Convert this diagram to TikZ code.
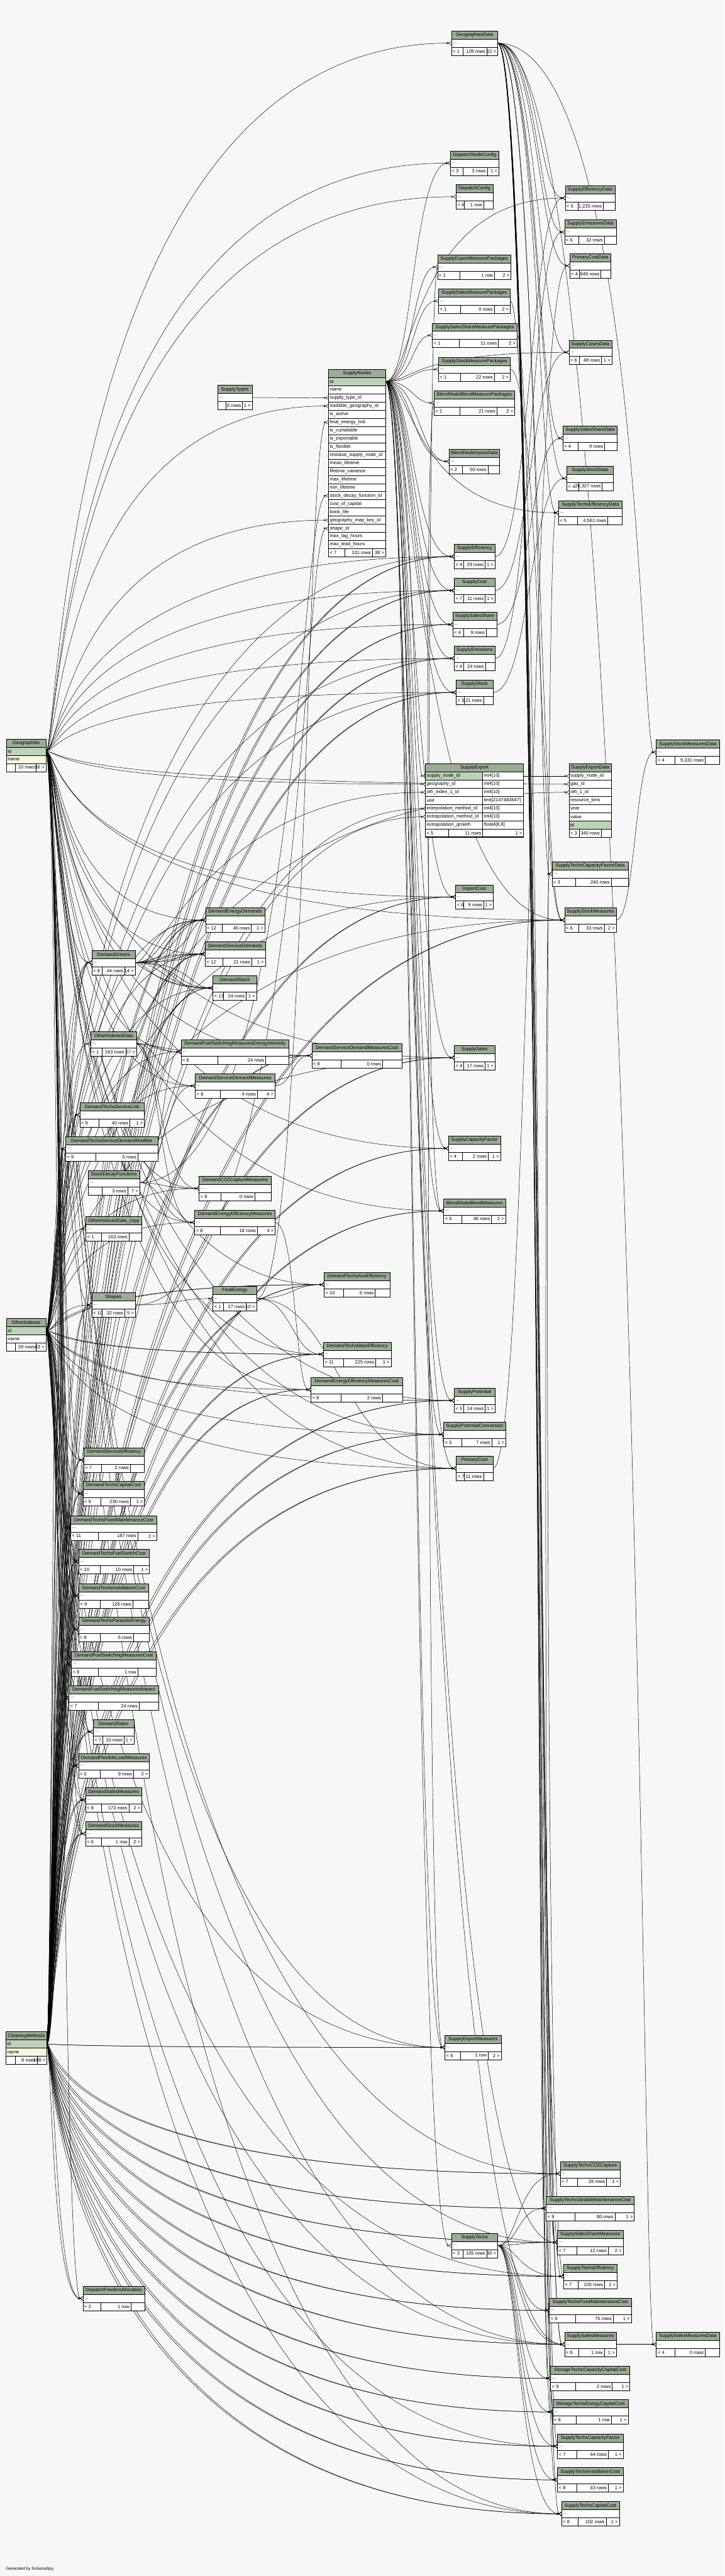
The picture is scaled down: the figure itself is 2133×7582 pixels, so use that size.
\documentclass[tikz,border=0pt]{standalone}
\usepackage{fontspec}
\setmainfont{Liberation Sans}
\usetikzlibrary{
    positioning,  % For stacking the rows of a table (below=0pt of ...)
    arrows.meta,  % For the open circle and crow's foot tips
    calc          % For the let-syntax in the curved links
}
\definecolor{PageBg}{HTML}{F7F7F7}
\definecolor{HeadFill}{HTML}{9BAB97}
\definecolor{KeyFill}{HTML}{BED1BA}
\definecolor{IdxFill}{HTML}{F5F7DE}

\pgfdeclarelayer{background}
\pgfsetlayers{background,main}

\newcommand{\tblfont}{\fontsize{14}{16}\selectfont}

% footer row of a table: parents | rows | children
\newcommand{\dbfoot}[6]{%
    \pgfmathsetmacro{\dbLw}{max(0.4*#3-20,24)}%
    \pgfmathsetmacro{\dbRw}{max(0.2*#3+5,28)}%
    \node[tblcell, minimum width=#3pt, below=0pt of #2] (#1-foot) {};
    \draw[tblline] ([xshift=\dbLw pt]#1-foot.north west) -- ([xshift=\dbLw pt]#1-foot.south west);
    \draw[tblline] ([xshift=-\dbRw pt]#1-foot.north east) -- ([xshift=-\dbRw pt]#1-foot.south east);
    \node[tbltext, anchor=west] at (#1-foot.west) {#4};
    \node[tbltext, anchor=east] at ([xshift=-\dbRw pt]#1-foot.east) {#5};
    \node[tbltext, anchor=east] at (#1-foot.east) {#6};
}
% compact table: name, "..." row, footer
\newcommand{\dbtable}[7]{%
    \pgfmathsetmacro{\dbTw}{#4-8}%
    \node[tblhead, text width=\dbTw pt] (#1) at (#2,#3) {\detokenize{#1}};
    \node[tblrow, text width=\dbTw pt, below=0pt of #1] (#1-r) {...};
    \dbfoot{#1}{#1-r}{#4}{#5}{#6}{#7}%
}
% foreign key link, bent round the vertical line x = #3
\newcommand{\fklink}[3]{%
    \draw[fk] let \p1=(#1), \p2=(#2) in
        (\p1) .. controls (#3 pt,\y1) and (#3 pt,\y2) .. (\p2);%
}

\begin{document}
\begin{tikzpicture}[x=1pt, y=-1pt]
    % --- Styles ---
    \tikzset{
        tblhead/.style={draw, fill=HeadFill, line width=0.9pt, anchor=north west,
            inner xsep=4pt, inner ysep=0pt, outer sep=0pt, minimum height=24pt,
            align=center, font=\tblfont},
        tblrow/.style={draw, fill=white, line width=0.9pt, anchor=north west,
            inner xsep=4pt, inner ysep=0pt, outer sep=0pt, minimum height=24pt,
            align=left, font=\tblfont},
        tblcell/.style={draw, fill=white, line width=0.9pt, anchor=north west,
            inner sep=0pt, outer sep=0pt, minimum height=24pt},
        tbltext/.style={inner xsep=4pt, inner ysep=0pt, font=\tblfont},
        tblline/.style={line width=0.9pt},
        fk/.style={line width=0.9pt,
            -{Circle[open,length=6pt,width=6pt] Straight Barb[reversed,length=7pt,width=11pt]}}
    }
    \useasboundingbox (0,0) rectangle (2133,7582);

    % --- Key tables on the left ---
    \node[tblhead, text width=108pt] (Geographies) at (19,2175) {Geographies};
    \node[tblrow, fill=KeyFill, text width=108pt, below=0pt of Geographies] (Geographies-id) {id};
    \node[tblrow, fill=IdxFill, text width=108pt, below=0pt of Geographies-id] (Geographies-name) {name};
    \dbfoot{Geographies}{Geographies-name}{116}{}{10 rows}{56 >}

    \node[tblhead, text width=108pt] (OtherIndexes) at (19,3881) {OtherIndexes};
    \node[tblrow, fill=KeyFill, text width=108pt, below=0pt of OtherIndexes] (OtherIndexes-id) {id};
    \node[tblrow, text width=108pt, below=0pt of OtherIndexes-id] (OtherIndexes-name) {name};
    \dbfoot{OtherIndexes}{OtherIndexes-name}{116}{}{29 rows}{63 >}

    \node[tblhead, text width=113pt] (CleaningMethods) at (17,5980) {CleaningMethods};
    \node[tblrow, fill=KeyFill, text width=113pt, below=0pt of CleaningMethods] (CleaningMethods-id) {id};
    \node[tblrow, fill=IdxFill, text width=113pt, below=0pt of CleaningMethods-id] (CleaningMethods-name) {name};
    \dbfoot{CleaningMethods}{CleaningMethods-name}{121}{}{8 rows}{108 >}

    % --- SupplyNodes with its columns ---
    \node[tblhead, text width=160pt] (SupplyNodes) at (967,1087) {SupplyNodes};
    \node[tblrow, fill=KeyFill, text width=160pt, below=0pt of SupplyNodes] (SupplyNodes-1) {id};
    \foreach \col [count=\i from 2, remember=\i as \j (initially 1)] in {name, supply\_type\_id,
        tradable\_geography\_id, is\_active, final\_energy\_link, is\_curtailable, is\_exportable,
        is\_flexible, residual\_supply\_node\_id, mean\_lifetime, lifetime\_variance, max\_lifetime,
        min\_lifetime, stock\_decay\_function\_id, cost\_of\_capital, book\_life,
        geography\_map\_key\_id, shape\_id, max\_lag\_hours, max\_lead\_hours}
        \node[tblrow, text width=160pt, below=0pt of SupplyNodes-\j] (SupplyNodes-\i) {\col};
    \dbfoot{SupplyNodes}{SupplyNodes-21}{168}{< 7}{101 rows}{38 >}

    % --- SupplyExport (the table in focus) ---
    \node[tblhead, text width=281pt] (SupplyExport) at (1252,2248) {SupplyExport};
    \node[tblrow, fill=KeyFill, text width=161pt, below=0pt of SupplyExport.south west, anchor=north west]
        (SupplyExport-1) {supply\_node\_id};
    \node[tblrow, text width=112pt, anchor=north west] (SupplyExport-t1) at (SupplyExport-1.north east) {int4[10]};
    \foreach \col/\typ [count=\i from 2, remember=\i as \j (initially 1)] in {geography\_id/int4[10],
        oth\_index\_1\_id/int4[10], unit/text[2147483647], interpolation\_method\_id/int4[10],
        extrapolation\_method\_id/int4[10], extrapolation\_growth/{float4[8,8]}} {
        \node[tblrow, text width=161pt, anchor=north west] (SupplyExport-\i) at (SupplyExport-\j.south west) {\col};
        \node[tblrow, text width=112pt, anchor=north west] (SupplyExport-t\i) at (SupplyExport-\i.north east) {\typ};
    }
    \coordinate (SupplyExport-7c) at ($(SupplyExport-7.south west)!0.5!(SupplyExport-t7.south east)$);
    \node[tblcell, minimum width=289pt, anchor=north] (SupplyExport-foot) at (SupplyExport-7c) {};
    \draw[tblline] ([xshift=68pt]SupplyExport-foot.north west) -- ([xshift=68pt]SupplyExport-foot.south west);
    \draw[tblline] ([xshift=-120pt]SupplyExport-foot.north east) -- ([xshift=-120pt]SupplyExport-foot.south east);
    \node[tbltext, anchor=west] at (SupplyExport-foot.west) {< 5};
    \node[tbltext, anchor=east] at ([xshift=-120pt]SupplyExport-foot.east) {11 rows};
    \node[tbltext, anchor=east] at (SupplyExport-foot.east) {1 >};
    \draw[line width=3pt] (SupplyExport.north west) rectangle (SupplyExport-foot.south east);

    \node[tblhead, text width=117pt] (SupplyExportData) at (1675,2248) {SupplyExportData};
    \node[tblrow, text width=117pt, below=0pt of SupplyExportData] (SupplyExportData-1) {supply\_node\_id};
    \foreach \col [count=\i from 2, remember=\i as \j (initially 1)] in {gau\_id, oth\_1\_id,
        resource\_bins, year, value}
        \node[tblrow, text width=117pt, below=0pt of SupplyExportData-\j] (SupplyExportData-\i) {\col};
    \node[tblrow, fill=KeyFill, text width=117pt, below=0pt of SupplyExportData-6] (SupplyExportData-7) {id};
    \dbfoot{SupplyExportData}{SupplyExportData-7}{125}{< 3}{340 rows}{}

    % --- Compact tables: name, x, y, width, parents, rows, children ---
    \dbtable{GeographiesData}{1329}{91}{136}{< 1}{128 rows}{62 >}
    \dbtable{DispatchNodeConfig}{1326}{444}{142}{< 3}{3 rows}{1 >}
    \dbtable{DispatchConfig}{1342}{543}{109}{< 4}{1 row}{}
    \dbtable{SupplyEfficiencyData}{1664}{547}{146}{< 5}{1,225 rows}{}
    \dbtable{SupplyEmissionsData}{1662}{647}{152}{< 6}{32 rows}{}
    \dbtable{PrimaryCostData}{1677}{746}{121}{< 4}{848 rows}{}
    \dbtable{SupplyExportMeasurePackages}{1288}{750}{216}{< 1}{1 row}{2 >}
    \dbtable{SupplySalesMeasurePackages}{1291}{850}{211}{< 1}{0 rows}{2 >}
    \dbtable{SupplySalesShareMeasurePackages}{1273}{951}{249}{< 1}{11 rows}{2 >}
    \dbtable{SupplyStockMeasurePackages}{1291}{1051}{211}{< 1}{22 rows}{2 >}
    \dbtable{BlendNodeBlendMeasurePackages}{1278}{1150}{237}{< 1}{21 rows}{2 >}
    \dbtable{SupplyCasesData}{1675}{1001}{126}{< 6}{48 rows}{1 >}
    \dbtable{SupplySalesShareData}{1657}{1254}{160}{< 4}{9 rows}{}
    \dbtable{BlendNodeInputsData}{1322}{1322}{149}{< 2}{50 rows}{}
    \dbtable{SupplyStockData}{1669}{1372}{136}{< 4}{26,327 rows}{}
    \dbtable{SupplyTechsEfficiencyData}{1644}{1473}{188}{< 5}{4,561 rows}{}
    \dbtable{SupplyEfficiency}{1337}{1602}{120}{< 4}{29 rows}{1 >}
    \dbtable{SupplyCost}{1337}{1702}{120}{< 7}{11 rows}{1 >}
    \dbtable{SupplySalesShare}{1333}{1802}{129}{< 4}{9 rows}{}
    \dbtable{SupplyEmissions}{1337}{1902}{121}{< 4}{24 rows}{}
    \dbtable{SupplyStock}{1343}{2002}{108}{< 5}{21 rows}{}
    \dbtable{SupplyStockMeasuresData}{1932}{2178}{186}{< 4}{9,331 rows}{}
    \dbtable{SupplyTypes}{641}{1134}{101}{}{6 rows}{1 >}
    \dbtable{DemandEnergyDemands}{605}{2672}{174}{< 12}{46 rows}{1 >}
    \dbtable{DemandServiceDemands}{604}{2772}{177}{< 12}{21 rows}{1 >}
    \dbtable{DemandDrivers}{270}{2797}{128}{< 8}{44 rows}{14 >}
    \dbtable{DemandStock}{627}{2872}{128}{< 13}{24 rows}{1 >}
    \dbtable{OtherIndexesData}{267}{3036}{135}{< 1}{163 rows}{67 >}
    \dbtable{DemandFuelSwitchingMeasuresEnergyIntensity}{533}{3060}{318}{< 6}{24 rows}{}
    \dbtable{DemandServiceDemandMeasures}{575}{3160}{234}{< 8}{4 rows}{4 >}
    \dbtable{DemandServiceDemandMeasuresCost}{918}{3071}{266}{< 8}{0 rows}{}
    \dbtable{DemandTechsServiceLink}{235}{3245}{190}{< 9}{40 rows}{1 >}
    \dbtable{DemandTechsServiceDemandModifier}{193}{3345}{272}{< 9}{5 rows}{}
    \dbtable{StockDecayFunctions}{259}{3445}{152}{}{3 rows}{7 >}
    \dbtable{DemandCO2CaptureMeasures}{586}{3462}{212}{< 8}{0 rows}{}
    \dbtable{DemandEnergyEfficiencyMeasures}{573}{3562}{237}{< 8}{18 rows}{4 >}
    \dbtable{OtherIndexesData_copy}{253}{3581}{164}{< 1}{163 rows}{}
    \dbtable{SupplyTechsCapacityFactorData}{1625}{2536}{224}{< 3}{240 rows}{}
    \dbtable{ImportCost}{1341}{2604}{111}{< 6}{9 rows}{1 >}
    \dbtable{SupplyStockMeasures}{1662}{2672}{152}{< 6}{33 rows}{2 >}
    \dbtable{SupplySales}{1337}{3077}{120}{< 4}{17 rows}{1 >}
    \dbtable{SupplyCapacityFactor}{1320}{3344}{153}{< 4}{2 rows}{1 >}
    \dbtable{BlendNodeBlendMeasures}{1306}{3528}{182}{< 6}{46 rows}{2 >}
    \dbtable{Shapes}{270}{3805}{128}{< 10}{32 rows}{5 >}
    \dbtable{FinalEnergy}{627}{3786}{128}{< 1}{27 rows}{10 >}
    \dbtable{DemandTechsAuxEfficiency}{954}{3745}{194}{< 10}{6 rows}{}
    \dbtable{DemandTechsMainEfficiency}{952}{3950}{199}{< 11}{225 rows}{1 >}
    \dbtable{DemandEnergyEfficiencyMeasuresCost}{915}{4054}{270}{< 8}{2 rows}{}
    \dbtable{SupplyPotential}{1337}{4086}{120}{< 5}{14 rows}{1 >}
    \dbtable{SupplyPotentialConversion}{1306}{4186}{183}{< 5}{7 rows}{1 >}
    \dbtable{PrimaryCost}{1343}{4286}{108}{< 7}{11 rows}{}
    \dbtable{DemandServiceEfficiency}{247}{4261}{177}{< 7}{2 rows}{}
    \dbtable{DemandTechsCapitalCost}{244}{4360}{181}{< 9}{230 rows}{1 >}
    \dbtable{DemandTechsFixedMaintenanceCost}{208}{4461}{253}{< 11}{187 rows}{2 >}
    \dbtable{DemandTechsFuelSwitchCost}{231}{4560}{209}{< 10}{10 rows}{1 >}
    \dbtable{DemandTechsInstallationCost}{232}{4661}{205}{< 9}{126 rows}{}
    \dbtable{DemandTechsParasiticEnergy}{231}{4760}{209}{< 8}{6 rows}{}
    \dbtable{DemandFuelSwitchingMeasuresCost}{210}{4861}{250}{< 8}{1 row}{}
    \dbtable{DemandFuelSwitchingMeasuresImpact}{203}{4961}{264}{< 7}{24 rows}{}
    \dbtable{DemandSales}{274}{5061}{120}{< 7}{10 rows}{1 >}
    \dbtable{DemandFlexibleLoadMeasures}{231}{5161}{209}{< 5}{9 rows}{2 >}
    \dbtable{DemandSalesMeasures}{252}{5262}{165}{< 8}{173 rows}{2 >}
    \dbtable{DemandStockMeasures}{252}{5361}{165}{< 6}{1 row}{2 >}
    \dbtable{SupplyExportMeasures}{1310}{5990}{165}{< 6}{1 row}{2 >}
    \dbtable{SupplyTechsCO2Capture}{1649}{6362}{177}{< 7}{28 rows}{1 >}
    \dbtable{SupplyTechsVariableMaintenanceCost}{1608}{6464}{259}{< 9}{80 rows}{1 >}
    \dbtable{SupplyTechs}{1329}{6573}{136}{< 3}{105 rows}{30 >}
    \dbtable{SupplySalesShareMeasures}{1641}{6564}{193}{< 7}{12 rows}{2 >}
    \dbtable{SupplyTechsEfficiency}{1659}{6664}{157}{< 7}{105 rows}{1 >}
    \dbtable{SupplyTechsFixedMaintenanceCost}{1617}{6764}{241}{< 9}{75 rows}{1 >}
    \dbtable{SupplySalesMeasures}{1662}{6864}{152}{< 6}{1 row}{1 >}
    \dbtable{SupplySalesMeasuresData}{1932}{6864}{186}{< 4}{0 rows}{}
    \dbtable{StorageTechsCapacityCapitalCost}{1621}{6964}{233}{< 8}{2 rows}{1 >}
    \dbtable{StorageTechsEnergyCapitalCost}{1627}{7063}{222}{< 8}{1 row}{1 >}
    \dbtable{SupplyTechsCapacityFactor}{1641}{7164}{193}{< 7}{44 rows}{1 >}
    \dbtable{SupplyTechsInstallationCost}{1641}{7263}{193}{< 8}{33 rows}{1 >}
    \dbtable{SupplyTechsCapitalCost}{1653}{7363}{170}{< 8}{102 rows}{1 >}
    \dbtable{DispatchFeedersAllocation}{244}{6729}{182}{< 2}{1 row}{}

    \node[anchor=west, inner sep=0pt, font=\fontsize{12}{14}\selectfont] (credit) at (17,7562) {Generated by SchemaSpy};

    % --- Links, drawn under the tables ---
    \begin{pgfonlayer}{background}
        \fill[PageBg] (0,0) rectangle (2133,7582);

        % Geographies.id
        \foreach \tb in {GeographiesData,DispatchNodeConfig,DispatchConfig,SupplyEfficiency,SupplyCost,
            SupplySalesShare,SupplyEmissions,SupplyStock,ImportCost,SupplySales,SupplyCapacityFactor,
            BlendNodeBlendMeasures,SupplyPotential,SupplyPotentialConversion,PrimaryCost,SupplyStockMeasures,
            SupplyExportMeasures,SupplyTechsCO2Capture,SupplySalesShareMeasures,SupplySalesMeasures,
            SupplyTechsCapitalCost,
            DemandEnergyDemands,DemandServiceDemands,DemandDrivers,DemandStock,DemandFuelSwitchingMeasuresEnergyIntensity,
            DemandServiceDemandMeasures,DemandServiceDemandMeasuresCost,DemandCO2CaptureMeasures,
            DemandEnergyEfficiencyMeasures,DemandTechsAuxEfficiency,DemandTechsMainEfficiency,
            DemandEnergyEfficiencyMeasuresCost,DemandServiceEfficiency,DemandTechsCapitalCost,
            DemandTechsFixedMaintenanceCost,DemandTechsFuelSwitchCost,DemandTechsInstallationCost,
            DemandTechsParasiticEnergy,DemandFuelSwitchingMeasuresCost,DemandFuelSwitchingMeasuresImpact,
            DemandSales,DemandFlexibleLoadMeasures,DemandSalesMeasures,DemandStockMeasures,Shapes,
            DispatchFeedersAllocation}
            {\fklink{Geographies-id.east}{\tb-r.west}{175}}
        \fklink{Geographies-id.east}{SupplyNodes-4.west}{175}
        \fklink{Geographies-id.east}{SupplyNodes-18.west}{185}
        \fklink{Geographies-id.east}{SupplyExport-2.west}{175}
        \fklink{Geographies-id.east}{SupplyExportData-2.west}{175}

        % OtherIndexes.id
        \foreach \tb in {DemandServiceEfficiency,DemandTechsCapitalCost,DemandTechsFixedMaintenanceCost,
            DemandTechsFuelSwitchCost,DemandTechsInstallationCost,DemandTechsParasiticEnergy,
            DemandFuelSwitchingMeasuresCost,DemandFuelSwitchingMeasuresImpact,DemandSales,
            DemandFlexibleLoadMeasures,DemandSalesMeasures,DemandStockMeasures,DemandTechsAuxEfficiency,
            DemandTechsMainEfficiency,DemandEnergyEfficiencyMeasuresCost,DemandEnergyDemands,
            DemandServiceDemands,DemandStock,DemandDrivers,OtherIndexesData,OtherIndexesData_copy,
            DemandTechsServiceLink,DemandTechsServiceDemandModifier,Shapes,
            DemandFuelSwitchingMeasuresEnergyIntensity,DemandServiceDemandMeasures,DemandCO2CaptureMeasures,
            DemandEnergyEfficiencyMeasures,SupplyEfficiency,SupplyCost,SupplyEmissions,SupplyStock,SupplySales,
            ImportCost,SupplyPotential,SupplyPotentialConversion,PrimaryCost,SupplyTechsEfficiency,
            SupplyTechsCapacityFactor,SupplyExportMeasures,SupplySalesMeasures,SupplyStockMeasures,
            SupplyTechsCapitalCost}
            {\fklink{OtherIndexes-id.east}{\tb-r.west}{168}}
        \foreach \tb in {DemandTechsCapitalCost,DemandTechsFixedMaintenanceCost,DemandTechsFuelSwitchCost,
            DemandTechsInstallationCost,DemandTechsParasiticEnergy,DemandTechsAuxEfficiency,
            DemandTechsMainEfficiency,DemandDrivers}
            {\fklink{OtherIndexes-id.east}{\tb-r.west}{182}}
        \fklink{OtherIndexes-id.east}{SupplyExport-3.west}{168}
        \fklink{OtherIndexes-id.east}{SupplyExportData-3.west}{168}

        % CleaningMethods.id: interpolation and extrapolation
        \foreach \tb in {SupplyEfficiency,SupplyCost,SupplySalesShare,SupplyEmissions,SupplyStock,ImportCost,
            SupplySales,SupplyCapacityFactor,BlendNodeBlendMeasures,SupplyPotential,SupplyPotentialConversion,
            PrimaryCost,SupplyStockMeasures,SupplySalesShareMeasures,SupplySalesMeasures,SupplyExportMeasures,
            SupplyTechsCO2Capture,SupplyTechsVariableMaintenanceCost,SupplyTechsEfficiency,
            SupplyTechsFixedMaintenanceCost,StorageTechsCapacityCapitalCost,StorageTechsEnergyCapitalCost,
            SupplyTechsCapacityFactor,SupplyTechsInstallationCost,SupplyTechsCapitalCost,DemandEnergyDemands,
            DemandServiceDemands,DemandDrivers,DemandStock,DemandServiceEfficiency,DemandTechsCapitalCost,
            DemandTechsFixedMaintenanceCost,DemandTechsFuelSwitchCost,DemandTechsInstallationCost,
            DemandTechsParasiticEnergy,DemandFuelSwitchingMeasuresCost,DemandFuelSwitchingMeasuresImpact,
            DemandSales,DemandFlexibleLoadMeasures,DemandSalesMeasures,DemandStockMeasures,
            DemandTechsAuxEfficiency,DemandTechsMainEfficiency,DemandEnergyEfficiencyMeasuresCost,
            DemandServiceDemandMeasuresCost,DemandTechsServiceLink,DemandTechsServiceDemandModifier,Shapes,
            DispatchFeedersAllocation}
            {\fklink{CleaningMethods-id.east}{\tb-r.west}{152}
             \fklink{CleaningMethods-id.east}{\tb-r.west}{162}}
        \fklink{CleaningMethods-id.east}{SupplyExport-5.west}{152}
        \fklink{CleaningMethods-id.east}{SupplyExport-6.west}{162}

        % SupplyNodes.id
        \foreach \tb in {SupplyExportMeasurePackages,SupplySalesMeasurePackages,SupplySalesShareMeasurePackages,
            SupplyStockMeasurePackages,BlendNodeBlendMeasurePackages,DispatchNodeConfig,BlendNodeInputsData,
            SupplyEfficiency,SupplyCost,SupplySalesShare,SupplyEmissions,SupplyStock,ImportCost,SupplySales,
            SupplyCapacityFactor,BlendNodeBlendMeasures,SupplyPotential,SupplyPotentialConversion,PrimaryCost,
            SupplyExportMeasures,SupplyTechs,SupplyStockMeasures,SupplySalesShareMeasures,SupplySalesMeasures,
            SupplyEfficiencyData,SupplyTechsEfficiencyData,SupplyCasesData}
            {\fklink{SupplyNodes-1.east}{\tb-r.west}{1215}}
        \fklink{SupplyNodes-1.east}{BlendNodeInputsData-r.west}{1235}
        \fklink{SupplyNodes-1.east}{SupplyExport-1.west}{1215}

        % GeographiesData
        \foreach \tb in {SupplyEfficiencyData,SupplyEmissionsData,PrimaryCostData,SupplyCasesData,
            SupplySalesShareData,SupplyStockData,SupplyTechsEfficiencyData,SupplyTechsCapacityFactorData,
            SupplyStockMeasures,SupplyTechsCO2Capture,SupplyTechsVariableMaintenanceCost,SupplySalesShareMeasures,
            SupplyTechsEfficiency,SupplyTechsFixedMaintenanceCost,SupplySalesMeasures,
            StorageTechsCapacityCapitalCost,StorageTechsEnergyCapitalCost,SupplyTechsCapacityFactor,
            SupplyTechsInstallationCost,SupplyTechsCapitalCost}
            {\fklink{GeographiesData-r.east}{\tb-r.west}{1585}}
        \fklink{GeographiesData-r.east}{SupplyStockMeasuresData-r.west}{1885}
        \fklink{GeographiesData-r.east}{SupplySalesMeasuresData-r.west}{1885}

        % SupplyTechs
        \foreach \tb in {SupplyTechsCO2Capture,SupplyTechsVariableMaintenanceCost,SupplySalesShareMeasures,
            SupplyTechsEfficiency,SupplyTechsFixedMaintenanceCost,SupplySalesMeasures,
            StorageTechsCapacityCapitalCost,StorageTechsEnergyCapitalCost,SupplyTechsCapacityFactor,
            SupplyTechsInstallationCost,SupplyTechsCapitalCost}
            {\fklink{SupplyTechs-r.east}{\tb-r.west}{1525}}

        % DemandDrivers
        \foreach \bx in {440,480,520,560}
            {\fklink{DemandDrivers-r.east}{DemandEnergyDemands-r.west}{\bx}
             \fklink{DemandDrivers-r.east}{DemandServiceDemands-r.west}{\bx}
             \fklink{DemandDrivers-r.east}{DemandStock-r.west}{\bx}}

        % OtherIndexesData, StockDecayFunctions, Shapes, FinalEnergy, SupplyTypes
        \foreach \tb in {DemandFuelSwitchingMeasuresEnergyIntensity,DemandServiceDemandMeasures,
            DemandCO2CaptureMeasures,DemandEnergyEfficiencyMeasures,DemandServiceDemandMeasuresCost}
            {\fklink{OtherIndexesData-r.east}{\tb-r.west}{470}}
        \foreach \tb in {DemandServiceDemandMeasures,DemandCO2CaptureMeasures,DemandEnergyEfficiencyMeasures,
            DemandFuelSwitchingMeasuresEnergyIntensity}
            {\fklink{StockDecayFunctions-r.east}{\tb-r.west}{480}}
        \fklink{StockDecayFunctions-r.east}{SupplyNodes-15.west}{880}
        \fklink{Shapes-r.east}{FinalEnergy-r.west}{520}
        \fklink{Shapes-r.east}{SupplyNodes-19.west}{890}
        \fklink{FinalEnergy-r.east}{SupplyNodes-6.west}{900}
        \fklink{FinalEnergy-r.east}{DemandTechsAuxEfficiency-r.west}{860}
        \fklink{FinalEnergy-r.east}{DemandTechsMainEfficiency-r.west}{860}
        \fklink{FinalEnergy-r.east}{PrimaryCost-r.west}{1000}
        \fklink{SupplyTypes-r.east}{SupplyNodes-3.west}{850}

        % measure and data tables
        \fklink{SupplyEfficiency-r.east}{SupplyEfficiencyData-r.west}{1560}
        \fklink{SupplyEmissions-r.east}{SupplyEmissionsData-r.west}{1560}
        \fklink{PrimaryCost-r.east}{PrimaryCostData-r.west}{1560}
        \fklink{SupplyCost-r.east}{SupplyCasesData-r.west}{1560}
        \fklink{SupplySalesShare-r.east}{SupplySalesShareData-r.west}{1560}
        \fklink{SupplyStock-r.east}{SupplyStockData-r.west}{1560}
        \fklink{SupplyTechsEfficiency-r.west}{SupplyTechsEfficiencyData-r.west}{1600}
        \fklink{SupplyTechsCapacityFactor-r.west}{SupplyTechsCapacityFactorData-r.west}{1600}
        \fklink{SupplyStockMeasures-r.east}{SupplyStockMeasuresData-r.west}{1870}
        \fklink{SupplySalesMeasures-r.east}{SupplySalesMeasuresData-r.west}{1870}
        \fklink{SupplyExport-t1.east}{SupplyExportData-1.west}{1600}
        \fklink{SupplyStockMeasurePackages-r.east}{SupplyStockMeasures-r.west}{1590}
        \fklink{SupplySalesMeasurePackages-r.east}{SupplySalesMeasures-r.west}{1590}
        \fklink{SupplySalesShareMeasurePackages-r.east}{SupplySalesShareMeasures-r.west}{1590}
        \fklink{BlendNodeBlendMeasurePackages-r.west}{BlendNodeBlendMeasures-r.west}{1250}
        \fklink{SupplyExportMeasurePackages-r.west}{SupplyExportMeasures-r.west}{1250}
        \fklink{DemandServiceDemandMeasures-r.east}{DemandServiceDemandMeasuresCost-r.west}{860}
        \fklink{DemandEnergyEfficiencyMeasures-r.east}{DemandEnergyEfficiencyMeasuresCost-r.west}{870}
    \end{pgfonlayer}
\end{tikzpicture}
\end{document}
